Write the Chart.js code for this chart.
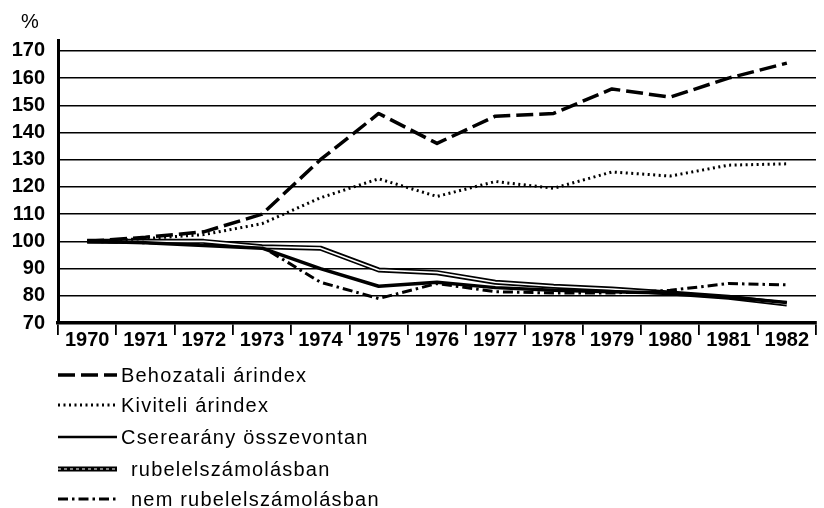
<!DOCTYPE html>
<html>
<head>
<meta charset="utf-8">
<script src="https://cdn.jsdelivr.net/npm/chart.js@4"></script>
<style>
  html, body { margin: 0; padding: 0; background: #fff; }
  #wrap { width: 824px; height: 508px; position: relative; }
</style>
</head>
<body>
<div id="wrap"><canvas id="c" width="824" height="508"></canvas></div>
<script>
const years = ['1970','1971','1972','1973','1974','1975','1976','1977','1978','1979','1980','1981','1982'];
const behozatali = [100, 101.5, 103.5, 110, 130, 147, 136, 146, 147, 156, 153, 160, 165.5];
const kiviteli   = [100, 101, 102.5, 106.5, 116, 123, 116.5, 122, 119.5, 125.5, 124, 128, 128.5];
const csere      = [100, 99.5, 98.5, 97.5, 90, 83.5, 85, 83, 82, 81.5, 81, 79.5, 77.5];
const rubel      = [100, 100, 100, 98, 97.5, 89.5, 88.5, 85, 83.5, 82.5, 81, 79.5, 77];
const nemRubel   = [100, 99.5, 99, 98, 85, 79, 84.5, 81.5, 81, 81, 82, 84.5, 84];
const yTicks = [70, 80, 90, 100, 110, 120, 130, 140, 150, 160, 170];
const seriesLabels = ['Behozatali árindex', 'Kiviteli árindex', 'Cserearány összevontan', 'rubelelszámolásban', 'nem rubelelszámolásban'];
const yUnit = '%';

const FONT = '"Liberation Sans", Arial, Helvetica, sans-serif';

const datasets = [
  { label: seriesLabels[0], data: behozatali, borderColor: '#000', borderWidth: 3.5, borderDash: [17, 6] },
  { label: seriesLabels[1], data: kiviteli, borderColor: '#000', borderWidth: 3, borderDash: [2, 3.5] },
  { label: seriesLabels[2], data: csere, borderColor: '#000', borderWidth: 3.5 },
  { label: seriesLabels[3], data: rubel, borderColor: '#000', borderWidth: 5 },
  { label: seriesLabels[4], data: nemRubel, borderColor: '#000', borderWidth: 3, borderDash: [10, 4, 2.5, 4] }
].map(d => Object.assign({ pointRadius: 0, tension: 0, fill: false, borderCapStyle: 'butt', borderJoinStyle: 'round' }, d));

// white core for the double-line series
const doubleLine = {
  id: 'doubleLine',
  afterDatasetDraw(chart, args) {
    if (args.index !== 3) return;
    const pts = args.meta.data;
    const ctx = chart.ctx;
    ctx.save();
    ctx.strokeStyle = '#fff';
    ctx.lineWidth = 1.6;
    ctx.lineJoin = 'round';
    ctx.beginPath();
    pts.forEach((p, i) => i ? ctx.lineTo(p.x, p.y) : ctx.moveTo(p.x, p.y));
    ctx.stroke();
    ctx.restore();
  }
};

const rowsY = [375, 405, 437, 469, 499];
const textX = [121, 121, 121, 131, 131];
const legendPlugin = {
  id: 'vlegend',
  afterDraw(chart) {
    const ctx = chart.ctx;
    ctx.save();
    // unit label
    ctx.fillStyle = '#000';
    ctx.font = '20px ' + FONT;
    ctx.textAlign = 'center';
    ctx.textBaseline = 'middle';
    ctx.fillText(yUnit, 30, 22);
    ctx.textAlign = 'left';
    ctx.font = '500 20px ' + FONT;
    try { ctx.letterSpacing = '1.2px'; } catch (e) {}
    chart.data.datasets.forEach((ds, i) => {
      const y = rowsY[i];
      const x0 = 58, x1 = 117;
      ctx.strokeStyle = '#000';
      ctx.lineWidth = i === 2 ? 2.5 : ds.borderWidth;
      ctx.setLineDash(ds.borderDash || []);
      ctx.beginPath();
      ctx.moveTo(x0, y); ctx.lineTo(x1, y);
      ctx.stroke();
      if (i === 3) {
        ctx.strokeStyle = '#fff';
        ctx.lineWidth = 1;
        ctx.setLineDash([3, 3]);
        ctx.beginPath();
        ctx.moveTo(x0, y); ctx.lineTo(x1, y);
        ctx.stroke();
      }
      ctx.setLineDash([]);
      ctx.fillStyle = '#000';
      ctx.fillText(ds.label, textX[i], y + 1);
    });
    ctx.restore();
  }
};

new Chart(document.getElementById('c'), {
  type: 'line',
  data: { labels: years, datasets },
  plugins: [doubleLine, legendPlugin],
  options: {
    responsive: false,
    animation: false,
    layout: { padding: { top: 40, right: 8, left: 0, bottom: 155 } },
    plugins: { legend: { display: false }, tooltip: { enabled: false } },
    scales: {
      x: {
        type: 'category',
        offset: true,
        afterFit(s) { s.height = 30; },
        border: { display: true, color: '#000', width: 3.5 },
        grid: { display: true, offset: true, drawOnChartArea: false, drawTicks: true, tickLength: 12, color: '#000', lineWidth: 1.8 },
        ticks: { color: '#000', font: { family: FONT, size: 20, weight: 'bold' }, padding: -7, maxRotation: 0, autoSkip: false }
      },
      y: {
        min: 70, max: 174,
        afterFit(s) { s.width = 58; },
        afterBuildTicks(s) { s.ticks = yTicks.map(v => ({ value: v })); },
        border: { display: true, color: '#000', width: 3 },
        grid: { color: '#000', lineWidth: 1.6, drawTicks: false },
        ticks: { color: '#000', font: { family: FONT, size: 20, weight: 'bold' }, padding: 13 }
      }
    }
  }
});
</script>
</body>
</html>
